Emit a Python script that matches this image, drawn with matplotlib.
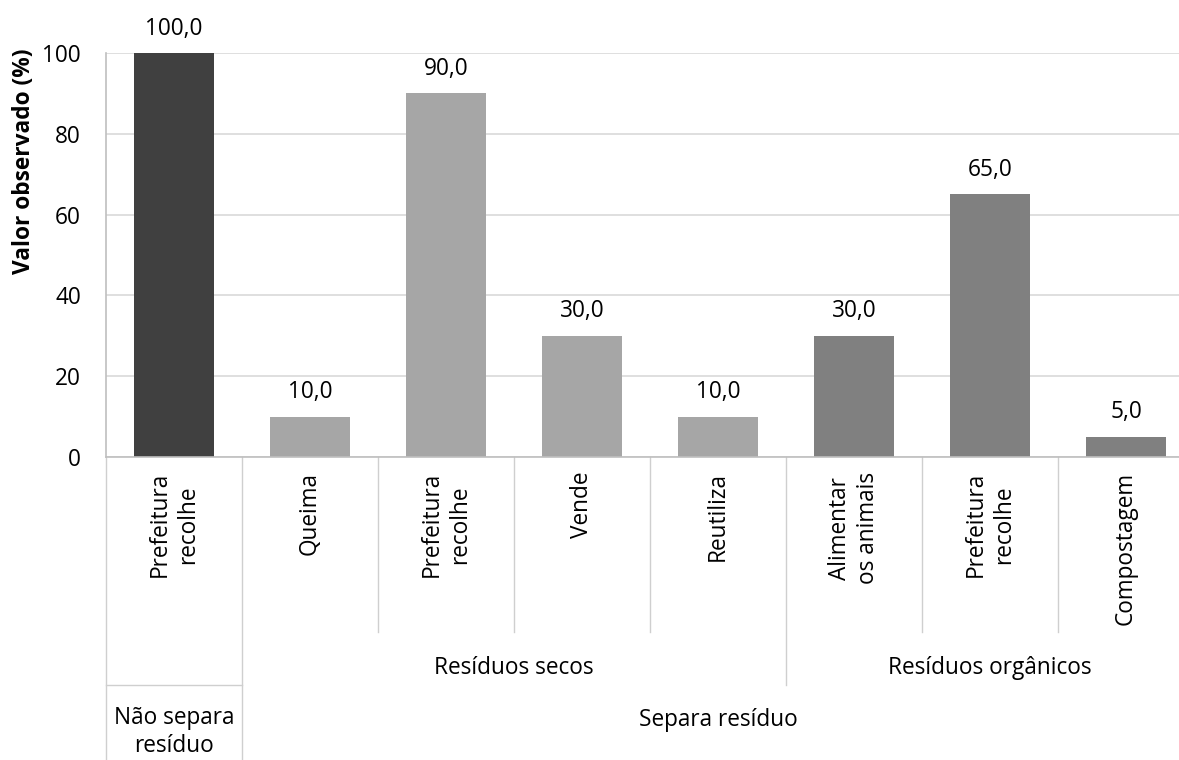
import matplotlib
matplotlib.use("Agg")
import matplotlib.pyplot as plt
from matplotlib.transforms import blended_transform_factory

plt.rcParams['font.family'] = ['Open Sans', 'DejaVu Sans']

level1 = ["Prefeitura\nrecolhe", "Queima", "Prefeitura\nrecolhe", "Vende", "Reutiliza",
          "Alimentar\nos animais", "Prefeitura\nrecolhe", "Compostagem"]
values = [100.0, 10.0, 90.0, 30.0, 10.0, 30.0, 65.0, 5.0]
level2_labels = ["", "Resíduos secos", "Resíduos orgânicos"]
level2_spans = [(0, 0), (1, 4), (5, 7)]
level3_labels = ["Não separa\nresíduo", "Separa resíduo"]
level3_spans = [(0, 0), (1, 7)]
yticks = [0, 20, 40, 60, 80, 100]

bar_colors = ["#404040"] + ["#a6a6a6"] * 4 + ["#808080"] * 3
line_col = "#bfbfbf"
FS = 16.3

W, H = 1179, 760
fig = plt.figure(figsize=(W / 100, H / 100), dpi=100)
x0, x1, ytop, ybot = 106, 1194, 53, 457
ax = fig.add_axes([x0 / W, (H - ybot) / H, (x1 - x0) / W, (ybot - ytop) / H])

xs = list(range(len(values)))
bars = ax.bar(xs, values, width=0.59, color=bar_colors, zorder=3)
ax.set_xlim(-0.5, len(values) - 0.5)
ax.set_ylim(0, 100)
ax.set_yticks(yticks)
ax.set_yticklabels([str(t) for t in yticks], fontsize=FS)
ax.tick_params(axis='y', length=0, pad=18)
ax.set_xticks([])
ax.grid(axis='y', color="#d9d9d9", linewidth=1.2, zorder=0)
for s in ['top', 'right']:
    ax.spines[s].set_visible(False)
ax.spines['left'].set_visible(False)
ax.spines['bottom'].set_color(line_col)
ax.spines['bottom'].set_linewidth(1.2)
ax.spines['bottom'].set_zorder(4)

for b, v in zip(bars, values):
    ax.annotate(f"{v:.1f}".replace(".", ","), (b.get_x() + b.get_width() / 2, v),
                xytext=(0, 9), textcoords="offset points", ha="center", va="bottom",
                fontsize=FS)

# y-axis title (positioned like the source, above the axis centre)
fig.text(24 / W, (H - 161) / H, "Valor observado (%)", rotation=90, ha="center", va="center",
         fontsize=FS, fontweight="bold")

tr = blended_transform_factory(ax.transData, fig.transFigure)

def fy(p):
    return (H - p) / H

# category table lines
y_l1, y_l2, y_l3 = 632, 685, 760
lw = 1.0
tcol = "#cfcfcf"
bounds_l3 = set()
for a, b in level3_spans:
    bounds_l3.add(a - 0.5)
    bounds_l3.add(b + 0.5)
bounds_l2 = set()
for a, b in level2_spans:
    bounds_l2.add(a - 0.5)
    bounds_l2.add(b + 0.5)
for i in range(len(values) + 1):
    xb = i - 0.5
    if xb in bounds_l3:
        yend = y_l3
    elif xb in bounds_l2:
        yend = y_l2
    else:
        yend = y_l1
    ax.plot([xb, xb], [fy(ybot), fy(yend)], color=tcol, lw=lw, transform=tr, clip_on=False)
ax.plot([-0.5, -0.5], [fy(ytop), fy(ybot)], color=line_col, lw=1.2, transform=tr, clip_on=False, zorder=4)
ax.plot([-0.5, 0.5], [fy(y_l2), fy(y_l2)], color=tcol, lw=lw, transform=tr, clip_on=False)

# level 1 labels
for i, lab in enumerate(level1):
    ax.text(i, fy(472), lab, rotation=90, rotation_mode="anchor", ha="right", va="center",
            multialignment="center", fontsize=FS, transform=tr, linespacing=1.25)

# level 2 labels
for lab, (a, b) in zip(level2_labels, level2_spans):
    if lab:
        ax.text((a + b) / 2, fy(668), lab, ha="center", va="center", fontsize=FS, transform=tr)

# level 3 labels
ax.text(0, fy(706), level3_labels[0], ha="center", va="top", fontsize=FS, transform=tr,
        linespacing=1.2, multialignment="center")
a, b = level3_spans[1]
ax.text((a + b) / 2, fy(720), level3_labels[1], ha="center", va="center", fontsize=FS, transform=tr)

fig.savefig("out.png", dpi=100)
